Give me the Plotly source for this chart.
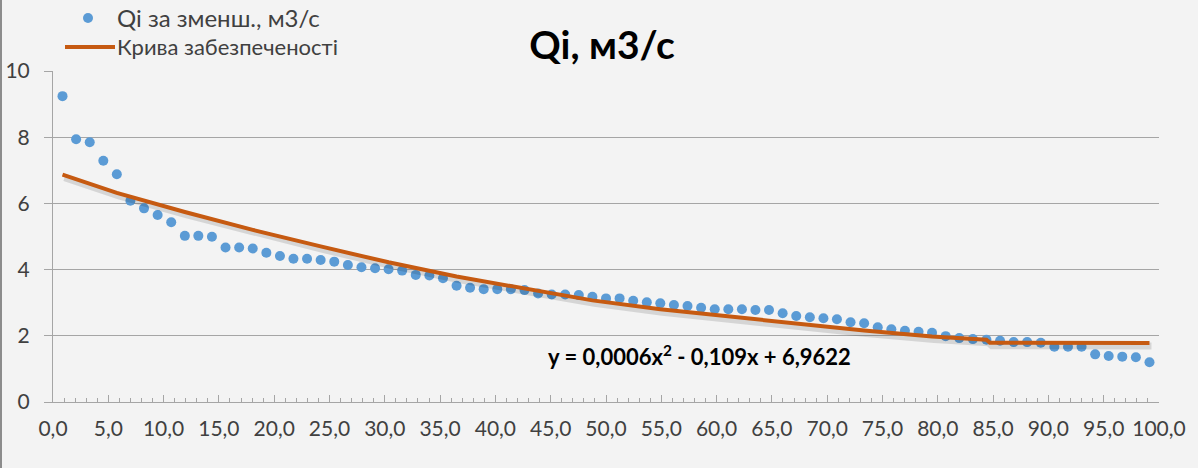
import plotly.graph_objects as go

# Exceedance probability P, % (Chegodaev plotting positions, n = 81)
p_values = [0.86, 2.09, 3.32, 4.55, 5.77, 7.00, 8.23, 9.46, 10.69, 11.92,
            13.14, 14.37, 15.60, 16.83, 18.06, 19.29, 20.52, 21.74, 22.97, 24.20,
            25.43, 26.66, 27.89, 29.12, 30.34, 31.57, 32.80, 34.03, 35.26, 36.49,
            37.71, 38.94, 40.17, 41.40, 42.63, 43.86, 45.09, 46.31, 47.54, 48.77,
            50.00, 51.23, 52.46, 53.69, 54.91, 56.14, 57.37, 58.60, 59.83, 61.06,
            62.29, 63.51, 64.74, 65.97, 67.20, 68.43, 69.66, 70.88, 72.11, 73.34,
            74.57, 75.80, 77.03, 78.26, 79.48, 80.71, 81.94, 83.17, 84.40, 85.63,
            86.86, 88.08, 89.31, 90.54, 91.77, 93.00, 94.23, 95.45, 96.68, 97.91,
            99.14]

# Qi sorted in decreasing order, m3/s
q_values = [9.24, 7.94, 7.85, 7.29, 6.88, 6.08, 5.85, 5.65, 5.43, 5.02,
            5.02, 4.99, 4.67, 4.67, 4.64, 4.51, 4.41, 4.33, 4.33, 4.29,
            4.24, 4.14, 4.07, 4.04, 4.01, 3.97, 3.84, 3.82, 3.74, 3.51,
            3.45, 3.41, 3.41, 3.41, 3.38, 3.28, 3.25, 3.25, 3.23, 3.18,
            3.13, 3.13, 3.06, 3.01, 2.98, 2.93, 2.90, 2.85, 2.80, 2.80,
            2.80, 2.78, 2.78, 2.68, 2.60, 2.56, 2.53, 2.50, 2.41, 2.38,
            2.26, 2.20, 2.15, 2.12, 2.09, 1.99, 1.93, 1.90, 1.88, 1.85,
            1.81, 1.81, 1.79, 1.67, 1.67, 1.67, 1.44, 1.39, 1.37, 1.35,
            1.20]

# Supply curve
curve_p = [0.86, 5.77, 11.92, 18.06, 24.20, 30.34, 36.49, 42.63, 48.77, 54.91,
           61.06, 67.20, 73.34, 79.48, 84.40, 84.70, 91.77, 99.14]
curve_q = [6.87, 6.32, 5.74, 5.20, 4.70, 4.22, 3.79, 3.43, 3.07, 2.80,
           2.58, 2.36, 2.16, 1.98, 1.88, 1.79, 1.79, 1.78]

x_ticks = [0, 5, 10, 15, 20, 25, 30, 35, 40, 45, 50, 55, 60, 65, 70, 75, 80, 85, 90, 95, 100]
y_ticks = [0, 2, 4, 6, 8, 10]

title_text = "Qi, м3/с"
series_points = "Qi за зменш., м3/с"
series_curve = "Крива забезпеченості"
equation = "y = 0,0006x<sup>2</sup> - 0,109x + 6,9622"

FONT = "Lato"
TXT = "#404040"
GRID = "#A5A5A5"
BLUE = "#5B9BD5"
ORANGE = "#C65A11"

W, H = 1198, 468
ML, MR, MT, MB = 53, 39, 71, 66
PW, PH = W - ML - MR, H - MT - MB


def px_x(px):
    return (px - ML) / PW


def px_y(py):
    return (H - MB - py) / PH


fig = go.Figure()

fig.add_trace(go.Scatter(
    x=p_values, y=q_values, mode="markers", name=series_points,
    marker=dict(color=BLUE, size=10), showlegend=False,
    xaxis="x", yaxis="y"))

# soft shadow of the curve (drawn on a slightly shifted overlay axis)
fig.add_trace(go.Scatter(
    x=curve_p, y=curve_q, mode="lines", showlegend=False, hoverinfo="skip",
    line=dict(color="rgba(0,0,0,0.12)", width=7),
    xaxis="x2", yaxis="y2"))

fig.add_trace(go.Scatter(
    x=curve_p, y=curve_q, mode="lines", name=series_curve,
    line=dict(color=ORANGE, width=4), showlegend=False,
    xaxis="x3", yaxis="y3"))

fig.update_layout(
    width=W, height=H,
    margin=dict(l=ML, r=MR, t=MT, b=MB, autoexpand=False),
    paper_bgcolor="#F3F3F3", plot_bgcolor="#F3F3F3",
    separators=", ",
    font=dict(family=FONT, color=TXT, size=21),
    title=dict(text=f"<b>{title_text}</b>", x=602 / W, xref="container",
               y=1 - 45 / H, yref="container", yanchor="middle", xanchor="center",
               font=dict(family=FONT, size=39, color="#000000")),
    showlegend=False,
    xaxis=dict(range=[0, 100], tickvals=x_ticks, tickformat=".1f",
               showgrid=False, zeroline=False, automargin=False,
               showline=True, linecolor=GRID, linewidth=1,
               ticks="inside", ticklen=7, tickcolor=GRID,
               minor=dict(dtick=1, tick0=0, ticks="inside", ticklen=4, tickcolor=GRID,
                          showgrid=False),
               tickfont=dict(family=FONT, size=21, color=TXT),
               ticklabelstandoff=8),
    yaxis=dict(range=[0, 10], tickvals=y_ticks, showgrid=True, gridcolor=GRID,
               gridwidth=1, zeroline=False, showline=True, linecolor=GRID,
               linewidth=1, ticks="outside", ticklen=8, tickcolor=GRID,
               automargin=False,
               tickfont=dict(family=FONT, size=21, color=TXT),
               ticklabelstandoff=10),
    xaxis2=dict(range=[-0.18, 99.82], overlaying="x", visible=False),
    yaxis2=dict(range=[0.09, 10.09], overlaying="y", visible=False),
    xaxis3=dict(range=[0, 100], overlaying="x", visible=False),
    yaxis3=dict(range=[0, 10], overlaying="y", visible=False),
)

# trend equation
fig.add_annotation(text=f"<b>{equation}</b>", xref="paper", yref="paper",
                   x=px_x(700), y=px_y(355), xanchor="center", yanchor="middle",
                   showarrow=False, font=dict(family=FONT, size=22, color="#000000"))

# legend (drawn by hand to match the original placement)
fig.add_shape(type="circle", xref="paper", yref="paper",
              xsizemode="pixel", ysizemode="pixel",
              xanchor=px_x(88), yanchor=px_y(18), x0=-5, x1=5, y0=-5, y1=5,
              fillcolor=BLUE, line=dict(width=0))
fig.add_shape(type="line", xref="paper", yref="paper",
              x0=px_x(65), x1=px_x(115), y0=px_y(47), y1=px_y(47),
              line=dict(color=ORANGE, width=4))
fig.add_annotation(text=series_points, xref="paper", yref="paper",
                   x=px_x(115), y=px_y(18), xanchor="left", yanchor="middle",
                   showarrow=False, font=dict(family=FONT, size=24, color=TXT))
fig.add_annotation(text=series_curve, xref="paper", yref="paper",
                   x=px_x(115), y=px_y(47), xanchor="left", yanchor="middle",
                   showarrow=False, font=dict(family=FONT, size=22, color=TXT))

# outer chart border on the left
fig.add_shape(type="line", xref="paper", yref="paper",
              x0=px_x(1), x1=px_x(1), y0=px_y(H), y1=px_y(0),
              line=dict(color="#8C8C8C", width=2))

fig.write_html("out.html")
